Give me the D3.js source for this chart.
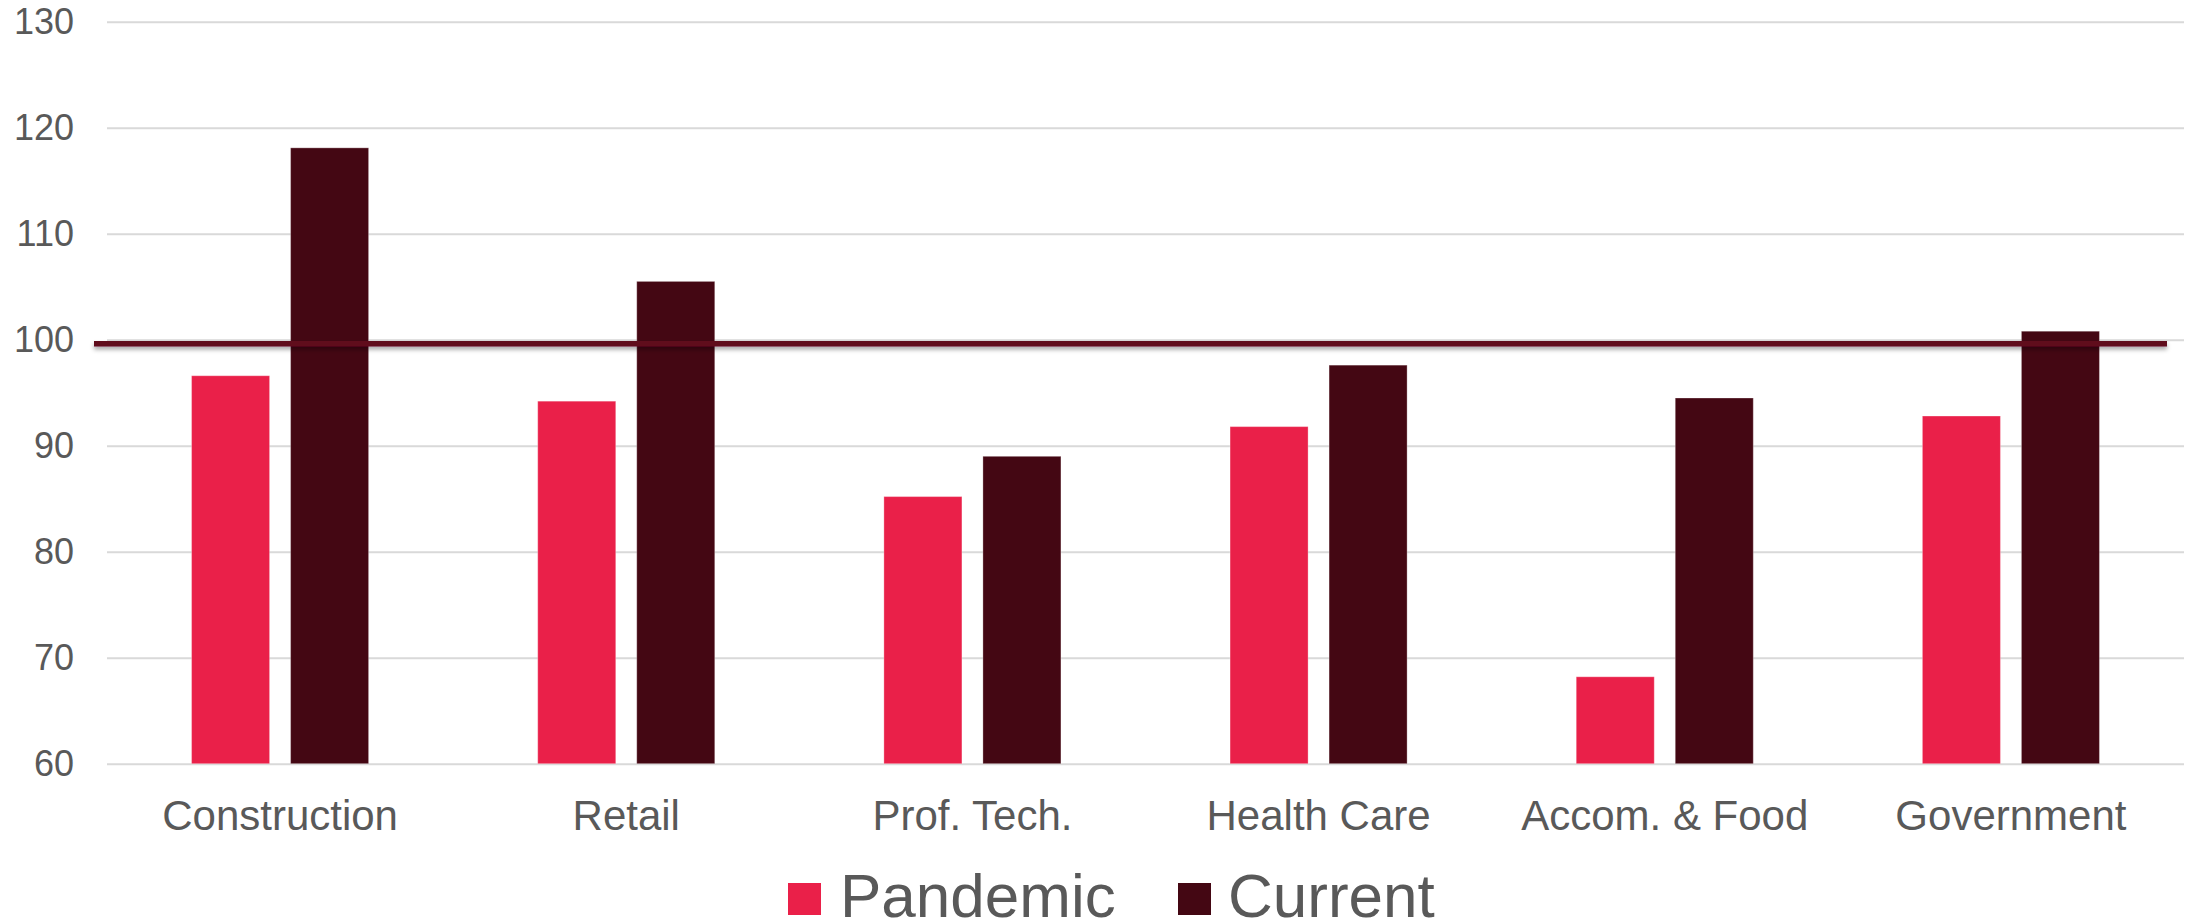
<!DOCTYPE html>
<html>
<head>
<meta charset="utf-8">
<script src="https://cdn.jsdelivr.net/npm/d3@7"></script>
<style>
  html, body { margin: 0; padding: 0; background: #ffffff; overflow: hidden; }
  svg { display: block; font-family: "Liberation Sans", Arial, sans-serif; }
</style>
</head>
<body>
<svg id="chart" width="2192" height="923"></svg>
<script>
// ---- data ----
const categories = ["Construction", "Retail", "Prof. Tech.", "Health Care", "Accom. & Food", "Government"];
const seriesNames = ["Pandemic", "Current"];
const pandemic = [96.6, 94.2, 85.2, 91.8, 68.2, 92.8];
const current = [118.1, 105.5, 89.0, 97.6, 94.5, 100.8];
const yTicks = [60, 70, 80, 90, 100, 110, 120, 130];
const referenceValue = 100;
const sourceNote = "Source: Council, Bureau of Employment Programs, WV";

const colors = { Pandemic: "#EA2049", Current: "#440713" };
const textColor = "#595959";

const W = 2192, H = 923;
const plot = { left: 107, right: 2184, top: 21.7, bottom: 763.7 };

const svg = d3.select("#chart");

// drop shadow for reference line
const defs = svg.append("defs");
const f = defs.append("filter").attr("id", "shadow")
  .attr("filterUnits", "userSpaceOnUse")
  .attr("x", 0).attr("y", 0).attr("width", W).attr("height", H);
f.append("feDropShadow").attr("dx", 0).attr("dy", 3).attr("stdDeviation", 2.2)
  .attr("flood-color", "#000").attr("flood-opacity", 0.35);

const y = d3.scaleLinear().domain([60, 130]).range([plot.bottom, plot.top]);
const x0 = d3.scaleBand().domain(categories).range([plot.left, plot.right]).padding(0);
const x1 = d3.scaleBand().domain(seriesNames).range([0, x0.bandwidth()])
  .paddingInner(0.212).paddingOuter(0.854);

// gridlines
const yAxis = d3.axisLeft(y).tickValues(yTicks)
  .tickSize(-(plot.right - plot.left)).tickPadding(33).tickFormat(d3.format("d"));
const gy = svg.append("g").attr("transform", `translate(${plot.left},0)`).call(yAxis);
gy.select(".domain").remove();
gy.selectAll(".tick line").attr("stroke", "#d9d9d9").attr("stroke-width", 2);
gy.selectAll(".tick text").attr("fill", textColor).attr("font-size", 36)
  .attr("font-family", "'Liberation Sans', Arial, sans-serif");

// bars
const rows = categories.map((c, i) => ({ cat: c, values: [
  { key: "Pandemic", value: pandemic[i] },
  { key: "Current", value: current[i] } ] }));

const groups = svg.append("g").selectAll("g").data(rows).join("g")
  .attr("transform", d => `translate(${x0(d.cat)},0)`);
groups.selectAll("rect").data(d => d.values).join("rect")
  .attr("x", d => x1(d.key))
  .attr("width", x1.bandwidth())
  .attr("y", d => y(d.value))
  .attr("height", d => y(60) - y(d.value))
  .attr("fill", d => colors[d.key])
  .attr("stroke", "#ffffff").attr("stroke-opacity", 0.3).attr("stroke-width", 1);

// reference line at 100
svg.append("line")
  .attr("x1", plot.left - 13).attr("x2", plot.right - 17)
  .attr("y1", y(referenceValue) + 4).attr("y2", y(referenceValue) + 4)
  .attr("stroke", "#600B1F").attr("stroke-width", 5.5)
  .attr("filter", "url(#shadow)");

// x axis labels
const xAxis = d3.axisBottom(x0).tickSize(0).tickPadding(0);
const gx = svg.append("g").attr("transform", `translate(0,${y(60)})`).call(xAxis);
gx.select(".domain").remove();
gx.selectAll(".tick text").attr("fill", textColor).attr("font-size", 42)
  .attr("font-family", "'Liberation Sans', Arial, sans-serif")
  .attr("dy", null).attr("y", 66);

// legend
const legendItems = [
  { key: "Pandemic", sx: 788, tx: 840 },
  { key: "Current", sx: 1178, tx: 1228 }
];
const lg = svg.append("g");
lg.selectAll("rect").data(legendItems).join("rect")
  .attr("x", d => d.sx).attr("y", 883).attr("width", 33).attr("height", 32)
  .attr("fill", d => colors[d.key]);
lg.selectAll("text").data(legendItems).join("text")
  .attr("x", d => d.tx).attr("y", 917)
  .attr("font-size", 62).attr("fill", textColor)
  .text(d => d.key);

// source note (mostly cut off at bottom, as in the reference)
svg.append("text").attr("x", 140).attr("y", 940)
  .attr("font-size", 24).attr("fill", "#222")
  .text(sourceNote);
</script>
</body>
</html>
